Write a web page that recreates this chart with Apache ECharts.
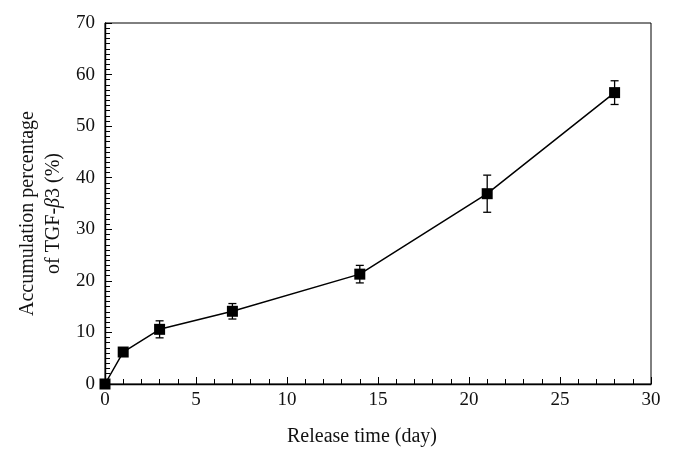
<!DOCTYPE html>
<html>
<head>
<meta charset="utf-8">
<script src="https://cdn.jsdelivr.net/npm/echarts@6/dist/echarts.min.js"></script>
<style>html,body{margin:0;padding:0;background:#fff}#c{width:674px;height:459px}</style>
</head>
<body>
<div id="c"></div>
<script>
var days = [0, 1, 3, 7, 14, 21, 28];
var release = [0, 6.2, 10.6, 14.1, 21.3, 36.9, 56.5];
var errors = [0, 0, 1.65, 1.5, 1.7, 3.6, 2.3];
var xTicks = { min: 0, max: 30, interval: 5 };
var yTicks = { min: 0, max: 70, interval: 10 };

var FONT = 'Liberation Serif';
var pts = days.map(function (d, i) { return [d, release[i]]; });
var errData = days.map(function (d, i) { return [d, release[i] - errors[i], release[i] + errors[i]]; })
  .filter(function (e, i) { return errors[i] > 0; });

var chart = echarts.init(document.getElementById('c'), null, { renderer: 'canvas' });
chart.setOption({
  backgroundColor: '#fff',
  animation: false,
  grid: { left: 105, right: 23, top: 23, bottom: 75, show: true, borderColor: '#000', borderWidth: 1 },
  xAxis: {
    type: 'value', min: xTicks.min, max: xTicks.max, interval: xTicks.interval,
    name: 'Release time (day)', nameLocation: 'middle', nameGap: 43,
    nameTextStyle: { fontFamily: FONT, fontSize: 20, color: '#111', padding: [0, 32, 0, 0] },
    axisLine: { lineStyle: { color: '#000', width: 1.4 } },
    axisTick: { inside: true, length: 7, lineStyle: { color: '#000', width: 1 } },
    minorTick: { show: true, splitNumber: 5, length: 5, lineStyle: { color: '#000', width: 1 } },
    axisLabel: { fontFamily: FONT, fontSize: 19, color: '#111', margin: 7 },
    splitLine: { show: false }
  },
  yAxis: {
    type: 'value', min: yTicks.min, max: yTicks.max, interval: yTicks.interval,
    name: 'Accumulation percentage\nof TGF-{i|β}3 (%)', nameLocation: 'middle', nameGap: 38, nameRotate: 90,
    nameMoveOverlap: false,
    nameTextStyle: { fontFamily: FONT, fontSize: 20, color: '#111', lineHeight: 26, align: 'center', padding: [0, 20, 0, 0],
      rich: { i: { fontFamily: FONT, fontSize: 20, fontStyle: 'italic', color: '#111', lineHeight: 26 } } },
    axisLine: { lineStyle: { color: '#000', width: 1.4 } },
    axisTick: { inside: true, length: 7, lineStyle: { color: '#000', width: 1 } },
    minorTick: { show: true, splitNumber: 10, length: 5, lineStyle: { color: '#000', width: 1 } },
    axisLabel: { fontFamily: FONT, fontSize: 19, color: '#111', margin: 10 },
    splitLine: { show: false }
  },
  series: [
    {
      type: 'custom',
      data: errData,
      z: 3,
      renderItem: function (params, api) {
        var x = api.value(0);
        var lo = api.coord([x, api.value(1)]);
        var hi = api.coord([x, api.value(2)]);
        var cw = 4;
        var st = { stroke: '#000', lineWidth: 1.3 };
        return { type: 'group', children: [
          { type: 'line', shape: { x1: lo[0], y1: lo[1], x2: hi[0], y2: hi[1] }, style: st },
          { type: 'line', shape: { x1: lo[0] - cw, y1: lo[1], x2: lo[0] + cw, y2: lo[1] }, style: st },
          { type: 'line', shape: { x1: hi[0] - cw, y1: hi[1], x2: hi[0] + cw, y2: hi[1] }, style: st }
        ] };
      }
    },
    {
      type: 'line',
      data: pts,
      z: 4,
      symbol: 'rect',
      symbolSize: 11,
      showSymbol: true,
      itemStyle: { color: '#000' },
      lineStyle: { color: '#000', width: 1.5 }
    }
  ]
});
</script>
</body>
</html>
